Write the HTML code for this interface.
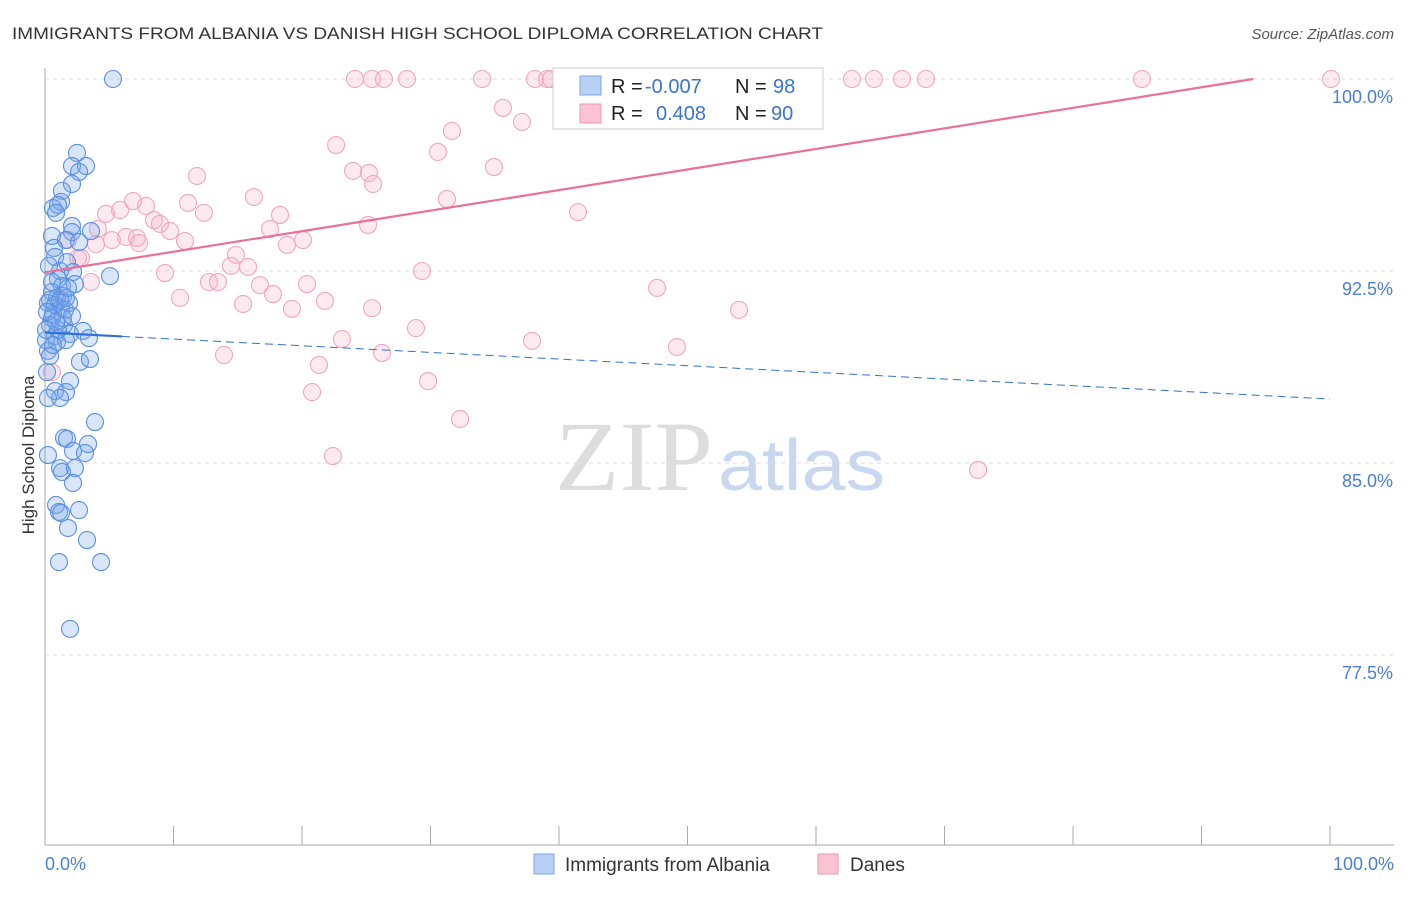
<!DOCTYPE html>
<html><head><meta charset="utf-8"><style>
body{margin:0;background:#fff;font-family:"Liberation Sans",sans-serif;}
</style></head><body>
<svg width="1406" height="892" viewBox="0 0 1406 892" xmlns="http://www.w3.org/2000/svg">
<text x="12" y="39" font-size="17" fill="#333" textLength="811" lengthAdjust="spacingAndGlyphs">IMMIGRANTS FROM ALBANIA VS DANISH HIGH SCHOOL DIPLOMA CORRELATION CHART</text>
<text x="1394" y="39" font-size="15" fill="#555" font-style="italic" text-anchor="end">Source: ZipAtlas.com</text>
<g id="grid"></g>
<text x="555" y="490" font-size="100" fill="#ddd" font-family="Liberation Serif,serif" textLength="158" lengthAdjust="spacingAndGlyphs">ZIP</text>
<text x="718" y="490" font-size="72" fill="#c9d8ef" textLength="167" lengthAdjust="spacingAndGlyphs">atlas</text>
<line x1="45" y1="68" x2="45" y2="845" stroke="#aaa"/>
<line x1="45" y1="845" x2="1394" y2="845" stroke="#aaa"/>
<text x="34" y="455" font-size="17" fill="#333" transform="rotate(-90 34 455)" text-anchor="middle">High School Diploma</text>
<text x="45" y="870" font-size="18" fill="#4a7fd4">0.0%</text>
<text x="1394" y="870" font-size="18" fill="#4a7fd4" text-anchor="end">100.0%</text>
<g id="pts"></g>
<g id="lines"></g>
<g>
<rect x="553" y="68" width="270" height="61" fill="#fff" stroke="#ccc"/>
<rect x="580" y="76" width="21" height="19" fill="#b8d0f4" stroke="#7aa6e6"/>
<rect x="580" y="104" width="21" height="19" fill="#f9c3d3" stroke="#ee9ab4"/>
<text x="611" y="93" font-size="20" fill="#222">R = <tspan fill="#3a73d0" x="645">-0.007</tspan></text>
<text x="735" y="93" font-size="20" fill="#222">N = <tspan fill="#3a73d0" x="773">98</tspan></text>
<text x="611" y="120" font-size="20" fill="#222">R = <tspan fill="#3a73d0" x="656">0.408</tspan></text>
<text x="735" y="120" font-size="20" fill="#222">N = <tspan fill="#3a73d0" x="771">90</tspan></text>
</g>
<g>
<rect x="534" y="854" width="20" height="20" fill="#b8d0f4" stroke="#7aa6e6"/>
<text x="565" y="871" font-size="19" fill="#333">Immigrants from Albania</text>
</g>
<g>
<rect x="818" y="854" width="20" height="20" fill="#f9c3d3" stroke="#ee9ab4"/>
<text x="850" y="871" font-size="19" fill="#333">Danes</text>
</g>
</svg>
<script>
const yTicks=[100,92.5,85,77.5];
const yTickLabels=["100.0%","92.5%","85.0%","77.5%"];
const bluePx=[[113,79],[77,153],[72,166],[86,166],[79,172],[72,184],[62,191],[61,202],[53,208],[58,205],[56,213],[72,226],[91,231],[52,236],[72,232],[66,240],[79,242],[54,248],[55,257],[67,262],[110,276],[60,271],[73,272],[58,279],[62,286],[75,284],[52,292],[57,298],[63,296],[69,303],[48,303],[61,308],[53,314],[52,318],[64,325],[83,331],[70,334],[55,336],[46,340],[57,342],[89,338],[66,340],[48,351],[50,356],[80,362],[90,359],[47,372],[70,381],[55,391],[66,392],[60,398],[48,398],[95,422],[64,438],[67,439],[88,444],[73,451],[85,453],[48,455],[60,468],[62,472],[75,468],[73,483],[56,505],[59,512],[61,513],[79,510],[68,528],[87,540],[59,562],[101,562],[70,629],[50,300],[55,305],[60,300],[65,310],[50,325],[58,330],[47,312],[66,298],[52,282],[68,288],[49,266],[63,318],[56,322],[72,316],[46,330],[53,345]];
const pinkPx=[[355,79],[372,79],[384,79],[407,79],[482,79],[535,79],[547,79],[551,79],[608,79],[634,79],[852,79],[874,79],[902,79],[926,79],[1142,79],[1331,79],[503,108],[522,122],[452,131],[336,145],[438,152],[494,167],[353,171],[197,176],[369,173],[373,184],[254,197],[447,199],[133,201],[188,203],[146,206],[120,210],[106,214],[578,212],[280,215],[204,213],[154,220],[160,224],[368,225],[98,229],[170,231],[270,229],[126,237],[137,238],[112,240],[68,240],[185,241],[303,240],[287,245],[96,244],[139,243],[236,255],[81,258],[231,266],[78,258],[248,267],[422,271],[165,273],[209,282],[218,282],[260,285],[307,284],[91,282],[657,288],[180,298],[273,294],[243,304],[325,301],[372,308],[292,309],[739,310],[416,328],[342,339],[532,341],[677,347],[224,355],[382,353],[319,365],[52,372],[428,381],[312,392],[460,419],[333,456],[978,470]];
const blueX=bluePx.map(p=>+((p[0]-45)/12.85).toFixed(2));
const blueY=bluePx.map(p=>+(100-(p[1]-79)/25.6).toFixed(2));
const pinkX=pinkPx.map(p=>+((p[0]-45)/12.85).toFixed(2));
const pinkY=pinkPx.map(p=>+(100-(p[1]-79)/25.6).toFixed(2));
const pinkTrend=[92.45,100.48];
const blueTrend=[90.1,87.5];
const sx=v=>45+v*12.85, sy=v=>79+(100-v)*25.6;
const NS="http://www.w3.org/2000/svg";
function mk(t,a,parent){const e=document.createElementNS(NS,t);for(const k in a)e.setAttribute(k,a[k]);parent.appendChild(e);return e;}
const grid=document.getElementById('grid');
yTicks.forEach((v,i)=>{
 const l=mk('line',{x1:45,x2:1394,y1:sy(v),y2:sy(v),stroke:'#ddd','stroke-dasharray':'4,4'},grid);
 
 
 const t=mk('text',{x:1393,y:sy(v)+24,'font-size':18,fill:'#4a7fd4','text-anchor':'end'},grid);
 t.textContent=yTickLabels[i];
 
 
});
for(let i=1;i<=10;i++){
 const tk=mk('line',{x1:45+i*128.5,x2:45+i*128.5,y1:826,y2:845,stroke:'#aaa'},grid);
 
 
}
const pts=document.getElementById('pts');
pinkX.forEach((x,i)=>{
 const c=mk('circle',{cx:sx(x),cy:sy(pinkY[i]),r:8.5,fill:'rgba(246,170,195,0.25)',stroke:'#f2a6bd','stroke-width':1.1},pts);
 
 
});
blueX.forEach((x,i)=>{
 const c=mk('circle',{cx:sx(x),cy:sy(blueY[i]),r:8.5,fill:'rgba(120,165,235,0.28)',stroke:'#5b8fe0','stroke-width':1.1},pts);
 
 
});
const ln=document.getElementById('lines');
// pink trend clipped at 100%
const xEnd=Math.min(100,(100-pinkTrend[0])/(pinkTrend[1]-pinkTrend[0])*100);
const pAt=x=>pinkTrend[0]+(pinkTrend[1]-pinkTrend[0])*x/100;
const pl=mk('line',{x1:sx(0),y1:sy(pAt(0)),x2:sx(xEnd),y2:sy(pAt(xEnd)),stroke:'#e8709a','stroke-width':2.2},ln);


const bAt=x=>blueTrend[0]+(blueTrend[1]-blueTrend[0])*x/100;
const bl=mk('line',{x1:sx(0),y1:sy(bAt(0)),x2:sx(6),y2:sy(bAt(6)),stroke:'#2f6fd6','stroke-width':2.2},ln);


const bd=mk('line',{x1:sx(6),y1:sy(bAt(6)),x2:sx(100),y2:sy(bAt(100)),stroke:'#2f6fd6','stroke-width':1,'stroke-dasharray':'8,5'},ln);


</script>
</body></html>
